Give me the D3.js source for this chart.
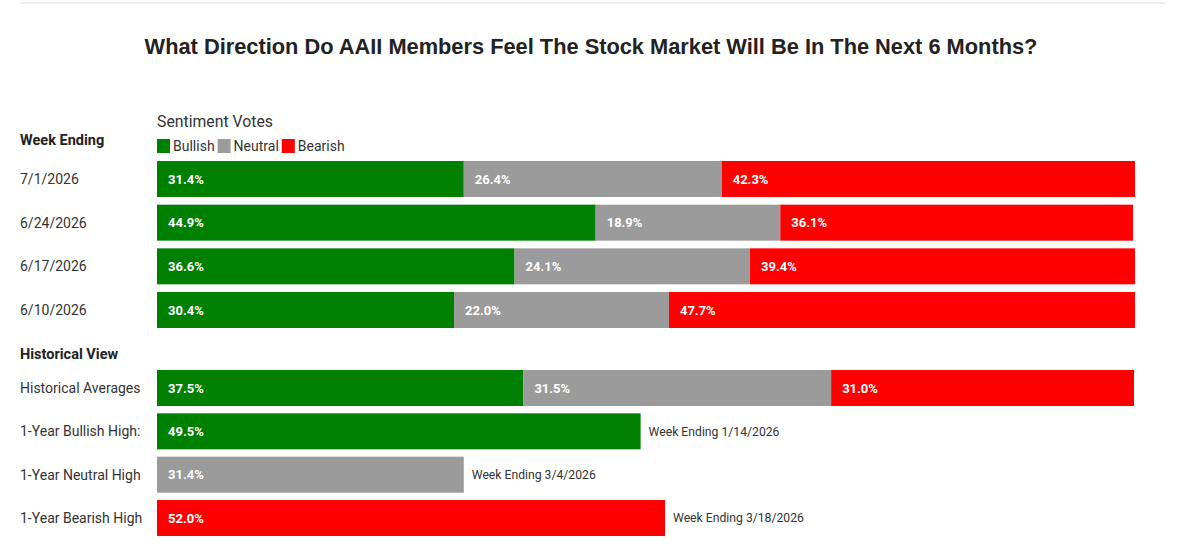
<!DOCTYPE html>
<html>
<head>
<meta charset="utf-8">
<style>
body { margin: 0; background: #fff; }
svg { font-family: Roboto, "Noto Sans", sans-serif; }
.title { font-family: "Liberation Sans", Arial, sans-serif; font-weight: bold; font-size: 21.8px; fill: #222; }
.rowlabel { font-size: 14px; fill: #333; }
.head { font-size: 14.5px; font-weight: bold; fill: #222; }
.val { font-size: 13px; font-weight: bold; fill: #fff; }
.note { font-size: 12.2px; fill: #333; }
</style>
</head>
<body>
<svg width="1200" height="548"></svg>
<script src="https://cdn.jsdelivr.net/npm/d3@7"></script>
<script>
var weeks = ["7/1/2026", "6/24/2026", "6/17/2026", "6/10/2026"];
var bullish = [31.4, 44.9, 36.6, 30.4];
var neutral = [26.4, 18.9, 24.1, 22.0];
var bearish = [42.3, 36.1, 39.4, 47.7];

var histLabels = ["Historical Averages", "1-Year Bullish High:", "1-Year Neutral High", "1-Year Bearish High"];
var histAverages = [37.5, 31.5, 31.0];
var highKeys = ["Bullish", "Neutral", "Bearish"];
var highValues = [49.5, 31.4, 52.0];
var highNotes = ["Week Ending 1/14/2026", "Week Ending 3/4/2026", "Week Ending 3/18/2026"];

var keys = ["Bullish", "Neutral", "Bearish"];

var svg = d3.select("svg");

var x = d3.scaleLinear().domain([0, 100]).range([157, 1134]);
var color = d3.scaleOrdinal().domain(keys).range(["#008000", "#9b9b9b", "#ff0000"]);

var yWeek = d3.scaleBand().domain(weeks).range([161, 328]).paddingInner(0.176);
var yHist = d3.scaleBand().domain(histLabels).range([370, 536]).paddingInner(0.169);

// top rule
svg.append("line")
    .attr("x1", 20).attr("x2", 1165).attr("y1", 3).attr("y2", 3)
    .attr("stroke", "#e6e6e6").attr("stroke-width", 1.5);

svg.append("text")
    .attr("class", "title")
    .attr("x", 591).attr("y", 54)
    .attr("text-anchor", "middle")
    .text("What Direction Do AAII Members Feel The Stock Market Will Be In The Next 6 Months?");

svg.append("text")
    .attr("x", 157).attr("y", 127)
    .style("font-size", "15.8px").attr("fill", "#333")
    .text("Sentiment Votes");

// legend
var lx = 157;
keys.forEach(function(k) {
  svg.append("rect")
      .attr("x", lx).attr("y", 139).attr("width", 13).attr("height", 14)
      .attr("fill", color(k));
  var t = svg.append("text")
      .attr("x", lx + 16).attr("y", 151)
      .style("font-size", "14px").attr("fill", "#333")
      .text(k);
  lx += 16 + t.node().getComputedTextLength() + 3;
});

svg.append("text").attr("class", "head").attr("x", 20).attr("y", 145).text("Week Ending");
svg.append("text").attr("class", "head").attr("x", 20).attr("y", 359).text("Historical View");

// weekly stacked rows
var weekData = weeks.map(function(w, i) {
  return {label: w, Bullish: bullish[i], Neutral: neutral[i], Bearish: bearish[i]};
});
var histData = [{label: histLabels[0], Bullish: histAverages[0], Neutral: histAverages[1], Bearish: histAverages[2]}];

var stack = d3.stack().keys(keys);

function drawStack(data, y) {
  var series = stack(data);
  var g = svg.append("g");
  series.forEach(function(s) {
    var seg = g.selectAll(null)
      .data(s)
      .enter().append("g");
    seg.append("rect")
        .attr("x", function(d) { return x(d[0]); })
        .attr("y", function(d) { return y(d.data.label); })
        .attr("width", function(d) { return x(d[1]) - x(d[0]); })
        .attr("height", y.bandwidth())
        .attr("fill", color(s.key));
    seg.append("text")
        .attr("class", "val")
        .attr("x", function(d) { return x(d[0]) + 11; })
        .attr("y", function(d) { return y(d.data.label) + y.bandwidth() / 2; })
        .attr("dy", "0.35em")
        .text(function(d) { return d.data[s.key].toFixed(1) + "%"; });
  });
}

drawStack(weekData, yWeek);
drawStack(histData, yHist);

// 1-year highs
var highs = highValues.map(function(v, i) {
  return {label: histLabels[i + 1], key: highKeys[i], value: v, note: highNotes[i]};
});
var hg = svg.selectAll(".high").data(highs).enter().append("g").attr("class", "high");
hg.append("rect")
    .attr("x", x(0))
    .attr("y", function(d) { return yHist(d.label); })
    .attr("width", function(d) { return x(d.value) - x(0); })
    .attr("height", yHist.bandwidth())
    .attr("fill", function(d) { return color(d.key); });
hg.append("text")
    .attr("class", "val")
    .attr("x", x(0) + 11)
    .attr("y", function(d) { return yHist(d.label) + yHist.bandwidth() / 2; })
    .attr("dy", "0.35em")
    .text(function(d) { return d.value.toFixed(1) + "%"; });
hg.append("text")
    .attr("class", "note")
    .attr("x", function(d) { return x(d.value) + 8; })
    .attr("y", function(d) { return yHist(d.label) + yHist.bandwidth() / 2; })
    .attr("dy", "0.35em")
    .text(function(d) { return d.note; });

// row labels
svg.selectAll(".wl").data(weeks).enter().append("text")
    .attr("class", "rowlabel")
    .attr("x", 20)
    .attr("y", function(d) { return yWeek(d) + yWeek.bandwidth() / 2; })
    .attr("dy", "0.35em")
    .text(function(d) { return d; });
svg.selectAll(".hl").data(histLabels).enter().append("text")
    .attr("class", "rowlabel")
    .attr("x", 20)
    .attr("y", function(d) { return yHist(d) + yHist.bandwidth() / 2; })
    .attr("dy", "0.35em")
    .text(function(d) { return d; });
</script>
</body>
</html>
